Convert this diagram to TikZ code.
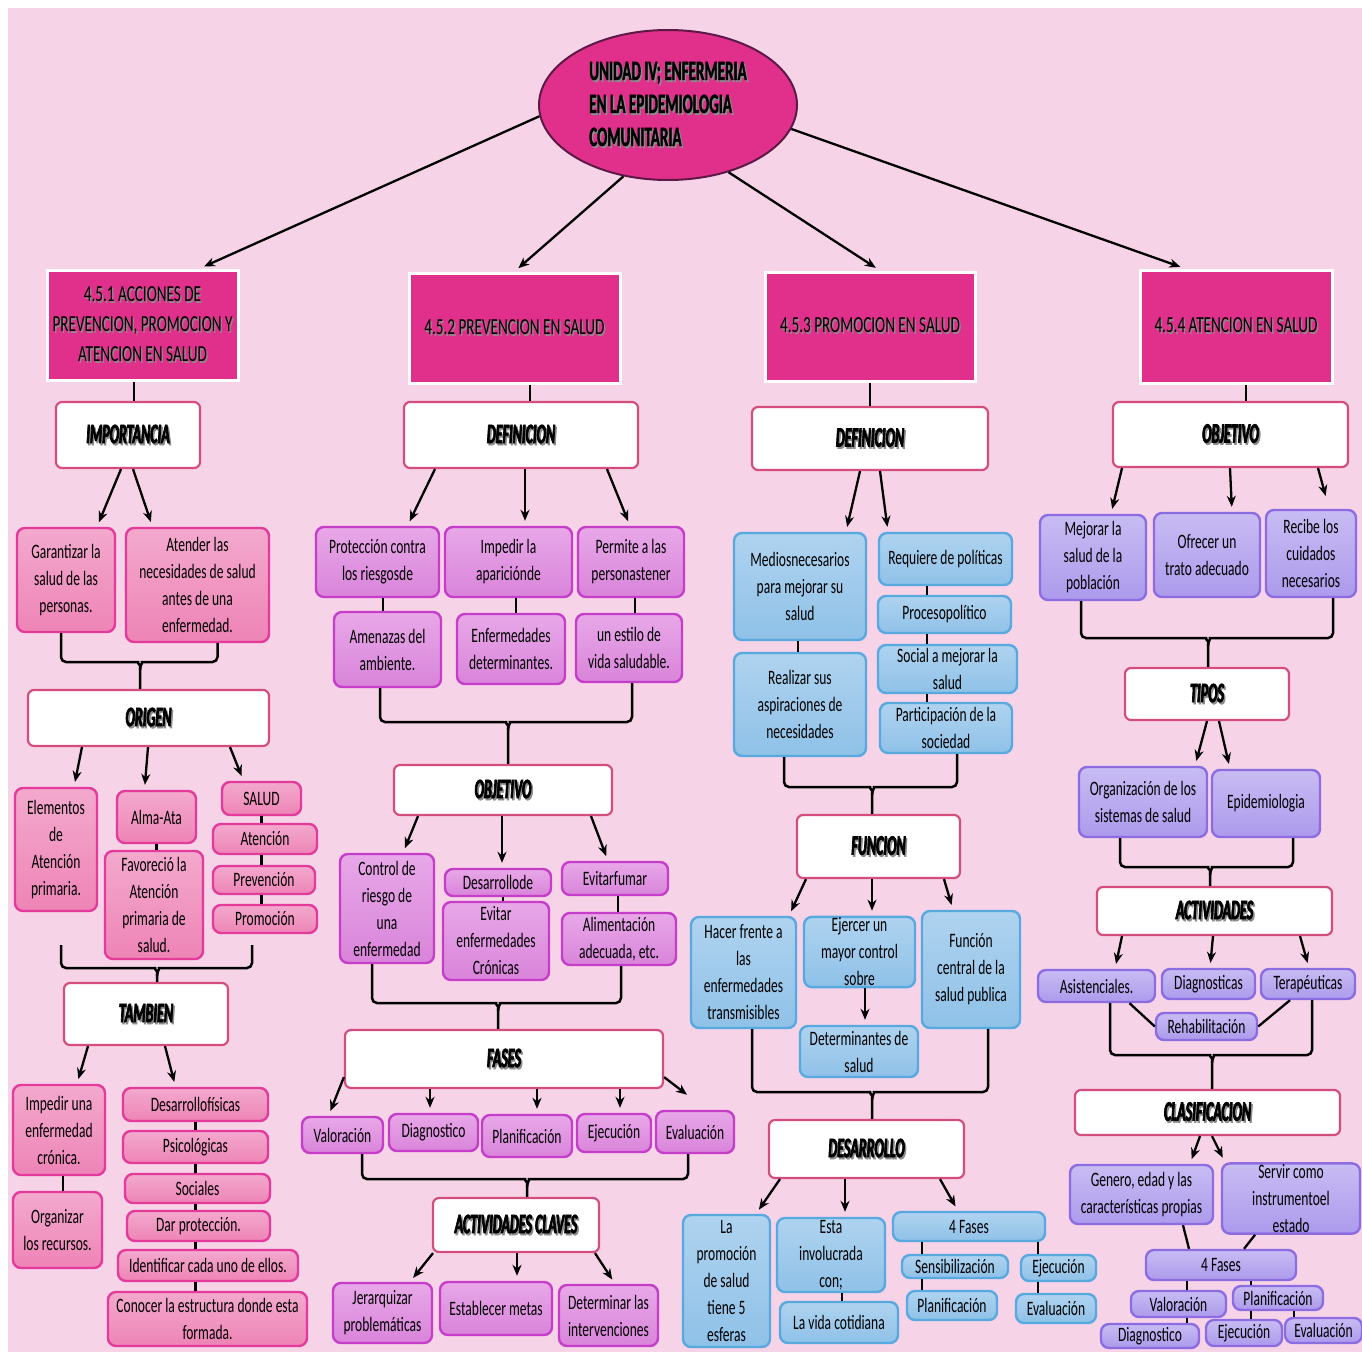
\documentclass[tikz,border=0pt]{standalone}
\usepackage{fontspec}
\setmainfont{Carlito}[FakeStretch=0.66]
\newfontfamily\ttlfont{Carlito}[FakeStretch=0.5,FakeBold=2.5]
\newfontfamily\hdfont{Carlito}[FakeStretch=0.54,FakeBold=1.2]
\usetikzlibrary{positioning, arrows.meta, shapes.geometric}

\definecolor{bgpink}{HTML}{F7D3E8}
\definecolor{mag}{HTML}{E0308C}
\definecolor{ellline}{HTML}{5E1A47}
\definecolor{ttlred}{HTML}{D44D7C}
\definecolor{pkA}{HTML}{F3A9CD}
\definecolor{pkB}{HTML}{EE84B6}
\definecolor{pkL}{HTML}{E33A9B}
\definecolor{puA}{HTML}{E8A8E8}
\definecolor{puB}{HTML}{D984DA}
\definecolor{puL}{HTML}{C53DC8}
\definecolor{blA}{HTML}{AFD3EF}
\definecolor{blB}{HTML}{8FC1E8}
\definecolor{blL}{HTML}{57A9DF}
\definecolor{lvA}{HTML}{C8BCF3}
\definecolor{lvB}{HTML}{AC9AEC}
\definecolor{lvL}{HTML}{8B6DE1}

\newcommand\shd[1]{\makebox[0pt][l]{\hspace{1.5pt}\raisebox{-2pt}{\color{black!45}#1}}#1}

\tikzset{
    sz/.style 2 args={minimum width=#1pt, minimum height=#2pt},
    lvl/.style={rectangle, fill=mag, draw=white, line width=3pt, align=center, inner sep=1pt, font={\fontsize{23}{30}\selectfont}},
    ttl/.style={rectangle, rounded corners=6pt, fill=white, draw=ttlred, line width=2.2pt, inner sep=1pt, font={\ttlfont\bfseries\itshape\fontsize{28}{30}\selectfont}},
    cbox/.style={rectangle, rounded corners=8pt, line width=2.4pt, align=center, inner sep=1pt, font={\fontsize{20.5}{27}\selectfont}},
    pk/.style={cbox, draw=pkL, top color=pkA, bottom color=pkB},
    pu/.style={cbox, draw=puL, top color=puA, bottom color=puB},
    bl/.style={cbox, draw=blL, top color=blA, bottom color=blB},
    lv/.style={cbox, draw=lvL, top color=lvA, bottom color=lvB},
    arr/.style={->, line width=2.3pt, shorten >=5pt},
    ln/.style={line width=2.3pt},
    brk/.style={line width=2.5pt, rounded corners=5pt}
}

\begin{document}
\begin{tikzpicture}[x=1pt, y=-1pt, >={Stealth[length=11pt,width=9pt]}]
    \useasboundingbox (0,0) rectangle (1362,1352);
    \fill[white] (0,0) rectangle (1362,1352);
    \fill[bgpink] (8,8) rectangle (1362,1352);

    % main topic
    \node (ell) [ellipse, fill=mag, draw=ellline, line width=2pt, sz={258}{150}, align=left, font={\hdfont\bfseries\fontsize{28}{33}\selectfont}] at (668,105)
        {\shd{UNIDAD IV; ENFERMERIA}\\\shd{EN LA EPIDEMIOLOGIA}\\\shd{COMUNITARIA}};
    \node (b1) [lvl, sz={191}{110}] at (142.5,325) {\shd{4.5.1 ACCIONES DE}\\\shd{PREVENCION, PROMOCION Y}\\\shd{ATENCION EN SALUD}};
    \node (b2) [lvl, sz={211}{110}] at (514.5,328) {\shd{4.5.2 PREVENCION EN SALUD}};
    \node (b3) [lvl, sz={210}{109}] at (870,326.5) {\shd{4.5.3 PROMOCION EN SALUD}};
    \node (b4) [lvl, sz={192}{113}] at (1236,326.5) {\shd{4.5.4 ATENCION EN SALUD}};
    \draw [arr] (ell.185) -- ([xshift=57]b1.north);
    \draw [arr] (ell.238) -- (b2.north);
    \draw [arr] (ell.312) -- ([xshift=10]b3.north);
    \draw [arr] (ell.349) -- ([xshift=-51]b4.north);

    % 4.5.1
    \node (imp) [ttl, sz={144}{66}] at (128,435) {\shd{IMPORTANCIA}};
    \node (gar) [pk, sz={98}{104}] at (66,580) {Garantizar la\\salud de las\\personas.};
    \node (ate) [pk, sz={143}{114}] at (197.5,585) {Atender las\\necesidades de salud\\antes de una\\enfermedad.};
    \node (org) [ttl, sz={241}{56}] at (148.5,718) {\shd{ORIGEN}};
    \node (ele) [pk, sz={82}{123}] at (56,849.5) {Elementos\\de\\Atención\\primaria.};
    \node (alm) [pk, sz={79}{52}] at (156.5,817) {Alma-Ata};
    \node (fav) [pk, sz={98}{108}] at (154,905) {Favoreció la\\Atención\\primaria de\\salud.};
    \node (sal) [pk, sz={79}{33}] at (261.5,798.5) {SALUD};
    \node (aten) [pk, sz={104}{30}] at (265,839) {Atención};
    \node (prev) [pk, sz={102}{28}] at (264,880) {Prevención};
    \node (prom) [pk, sz={104}{28}] at (265,919) {Promoción};
    \node (tam) [ttl, sz={164}{62}] at (146,1014) {\shd{TAMBIEN}};
    \node (imu) [pk, sz={92}{90}] at (59,1130) {Impedir una\\enfermedad\\crónica.};
    \node (orr) [pk, sz={89}{76}] at (57.5,1230) {Organizar\\los recursos.};
    \node (dfi) [pk, sz={145}{33}] at (195.5,1104.5) {Desarrollofísicas};
    \node (psi) [pk, sz={145}{32}] at (195.5,1147) {Psicológicas};
    \node (soc) [pk, sz={145}{29}] at (197.5,1188.5) {Sociales};
    \node (dpr) [pk, sz={143}{30}] at (198.5,1226) {Dar protección.};
    \node (ide) [pk, sz={180}{31}] at (208,1265.5) {Identificar cada uno de ellos.};
    \node (con) [pk, sz={199}{54}] at (207.5,1319) {Conocer la estructura donde esta\\formada.};

    \draw [ln] ([xshift=-8.5]b1.south) -- ([xshift=-8.5]b1.south |- imp.north);
    \draw [arr] ([xshift=-7]imp.south) -- ([xshift=31]gar.north);
    \draw [arr] ([xshift=5]imp.south) -- ([xshift=-45]ate.north);
    \coordinate (k1) at (140,662);
    \draw [brk] ([xshift=-5]gar.south) |- ([xshift=-7]k1) to[out=0, in=90] ([yshift=-8]k1) -- (k1 |- org.north);
    \draw [brk] ([xshift=20]ate.south) |- ([xshift=7]k1) to[out=180, in=90] ([yshift=-8]k1);
    \draw [arr] ([xshift=-66.5]org.south) -- ([xshift=18]ele.north);
    \draw [arr] ([xshift=-0.5]org.south) -- ([xshift=-12]alm.north);
    \draw [arr] ([xshift=81.5]org.south) -- ([xshift=-18]sal.north);
    \draw [ln] (alm.south) -- (alm.south |- fav.north);
    \draw [ln] (sal.south) -- (sal.south |- aten.north);
    \draw [ln] (sal.south |- aten.south) -- (sal.south |- prev.north);
    \draw [ln] (sal.south |- prev.south) -- (sal.south |- prom.north);
    \coordinate (k2l) at (61,945);
    \coordinate (k2r) at (252,945);
    \coordinate (k2) at (157,968);
    \draw [brk] (k2l) |- ([xshift=-7]k2) to[out=0, in=90] ([yshift=-8]k2) -- (k2 |- tam.north);
    \draw [brk] (k2r) |- ([xshift=7]k2) to[out=180, in=90] ([yshift=-8]k2);
    \draw [arr] ([xshift=-58]tam.south) -- ([xshift=18]imu.north);
    \draw [arr] ([xshift=19]tam.south) -- ([xshift=-20]dfi.north);
    \draw [ln] ([xshift=4]imu.south) -- ([xshift=4]imu.south |- orr.north);
    \draw [ln] (dfi.south) -- (dfi.south |- psi.north);
    \draw [ln] (psi.south) -- (psi.south |- soc.north);
    \draw [ln] (psi.south |- soc.south) -- (psi.south |- dpr.north);
    \draw [ln] (psi.south |- dpr.south) -- (psi.south |- ide.north);
    \draw [ln] (psi.south |- ide.south) -- (psi.south |- con.north);

    % 4.5.2
    \node (def2) [ttl, sz={234}{66}] at (521,435) {\shd{DEFINICION}};
    \node (pro) [pu, sz={123}{70}] at (377.5,562) {Protección contra\\los riesgosde};
    \node (ipa) [pu, sz={127}{70}] at (508.5,562) {Impedir la\\apariciónde};
    \node (per) [pu, sz={106}{70}] at (631,562) {Permite a las\\personastener};
    \node (ame) [pu, sz={107}{75}] at (387.5,649.5) {Amenazas del\\ambiente.};
    \node (enf) [pu, sz={108}{70}] at (511,649) {Enfermedades\\determinantes.};
    \node (est) [pu, sz={106}{68}] at (629,648) {un estilo de\\vida saludable.};
    \node (obj2) [ttl, sz={218}{50}] at (503,790) {\shd{OBJETIVO}};
    \node (ctr) [pu, sz={94}{109}] at (387,908.5) {Control de\\riesgo de\\una\\enfermedad};
    \node (dde) [pu, sz={106}{27}] at (498,882.5) {Desarrollode};
    \node (evi) [pu, sz={106}{78}] at (496,941) {Evitar\\enfermedades\\Crónicas};
    \node (efu) [pu, sz={106}{33}] at (615,878.5) {Evitarfumar};
    \node (ali) [pu, sz={114}{52}] at (619,939) {Alimentación\\adecuada, etc.};
    \node (fas) [ttl, sz={318}{58}] at (504,1059) {\shd{FASES}};
    \node (val) [pu, sz={81}{36}] at (342.5,1135) {Valoración};
    \node (dia) [pu, sz={89}{37}] at (433.5,1132.5) {Diagnostico};
    \node (pla) [pu, sz={90}{42}] at (527,1136) {Planificación};
    \node (eje) [pu, sz={74}{38}] at (614,1133) {Ejecución};
    \node (eva) [pu, sz={78}{42}] at (695,1132) {Evaluación};
    \node (acl) [ttl, sz={166}{54}] at (516,1225) {\shd{ACTIVIDADES CLAVES}};
    \node (jer) [pu, sz={99}{60}] at (382.5,1313) {Jerarquizar\\problemáticas};
    \node (met) [pu, sz={112}{53}] at (496,1308.5) {Establecer metas};
    \node (det) [pu, sz={99}{61}] at (608.5,1315.5) {Determinar las\\intervenciones};

    \draw [ln] ([xshift=15.5]b2.south) -- ([xshift=15.5]b2.south |- def2.north);
    \draw [arr] ([xshift=-86]def2.south) -- ([xshift=30]pro.north);
    \draw [arr] ([xshift=4]def2.south) -- ([xshift=16.5]ipa.north);
    \draw [arr] ([xshift=86]def2.south) -- ([xshift=-1]per.north);
    \draw [ln] ([xshift=5.5]pro.south) -- ([xshift=5.5]pro.south |- ame.north);
    \draw [ln] ([xshift=7.5]ipa.south) -- ([xshift=7.5]ipa.south |- enf.north);
    \draw [ln] ([xshift=4]per.south) -- ([xshift=4]per.south |- est.north);
    \coordinate (k3) at (508,722);
    \draw [brk] ([xshift=-7.5]ame.south) |- ([xshift=-7]k3) to[out=0, in=90] ([yshift=-8]k3) -- (k3 |- obj2.north);
    \draw [brk] ([xshift=3]est.south) |- ([xshift=7]k3) to[out=180, in=90] ([yshift=-8]k3);
    \draw [arr] ([xshift=-85]obj2.south) -- ([xshift=16]ctr.north);
    \draw [arr] ([xshift=-1]obj2.south) -- ([xshift=4]dde.north);
    \draw [arr] ([xshift=88]obj2.south) -- ([xshift=-7]efu.north);
    \draw [ln] ([xshift=5]dde.south) -- ([xshift=5]dde.south |- evi.north);
    \draw [ln] ([xshift=3]efu.south) -- ([xshift=3]efu.south |- ali.north);
    \coordinate (k4) at (498,1003);
    \draw [brk] ([xshift=-15]ctr.south) |- ([xshift=-7]k4) to[out=0, in=90] ([yshift=-8]k4) -- (k4 |- fas.north);
    \draw [brk] ([xshift=2]ali.south) |- ([xshift=7]k4) to[out=180, in=90] ([yshift=-8]k4);
    \draw [arr] ([yshift=12]fas.south west) -- ([xshift=-14]val.north);
    \draw [arr] ([xshift=-74]fas.south) -- ([xshift=-3.5]dia.north);
    \draw [arr] ([xshift=33]fas.south) -- ([xshift=10]pla.north);
    \draw [arr] ([xshift=116]fas.south) -- ([xshift=6]eje.north);
    \draw [arr] ([yshift=12]fas.south east) -- ([xshift=-4,yshift=12]eva.north);
    \coordinate (k5) at (527,1179);
    \draw [brk] ([xshift=19.5]val.south) |- ([xshift=-7]k5) to[out=0, in=90] ([yshift=-8]k5) -- (k5 |- acl.north);
    \draw [brk] ([xshift=-7]eva.south) |- ([xshift=7]k5) to[out=180, in=90] ([yshift=-8]k5);
    \draw [arr] ([xshift=-83]acl.south) -- ([xshift=27.5]jer.north);
    \draw [arr] ([xshift=1]acl.south) -- ([xshift=21]met.north);
    \draw [arr] ([xshift=79]acl.south) -- ([xshift=6.5]det.north);

    % 4.5.3
    \node (def3) [ttl, sz={236}{63}] at (870,438.5) {\shd{DEFINICION}};
    \node (med) [bl, sz={132}{107}] at (800,586.5) {Mediosnecesarios\\para mejorar su\\salud};
    \node (rea) [bl, sz={132}{103}] at (800,704.5) {Realizar sus\\aspiraciones de\\necesidades};
    \node (req) [bl, sz={133}{52}] at (945.5,559) {Requiere de políticas};
    \node (ppo) [bl, sz={133}{37}] at (944.5,614.5) {Procesopolítico};
    \node (soc3) [bl, sz={139}{48}] at (947.5,669) {Social a mejorar la\\salud};
    \node (par) [bl, sz={132}{50}] at (946,728) {Participación de la\\sociedad};
    \node (fun) [ttl, sz={163}{63}] at (878.5,846.5) {\shd{FUNCION}};
    \node (hac) [bl, sz={105}{111}] at (743.5,972.5) {Hacer frente a\\las\\enfermedades\\transmisibles};
    \node (ejr) [bl, sz={111}{70}] at (859.5,952) {Ejercer un\\mayor control\\sobre};
    \node (dts) [bl, sz={118}{51}] at (859,1051.5) {Determinantes de\\salud};
    \node (fce) [bl, sz={98}{117}] at (971,969.5) {Función\\central de la\\salud publica};
    \node (des) [ttl, sz={195}{58}] at (866.5,1149) {\shd{DESARROLLO}};
    \node (lpr) [bl, sz={87}{132}] at (726.5,1281) {La\\promoción\\de salud\\tiene 5\\esferas};
    \node (inv) [bl, sz={108}{74}] at (831,1255) {Esta\\involucrada\\con;};
    \node (lvc) [bl, sz={118}{41}] at (839,1322.5) {La vida cotidiana};
    \node (f4a) [bl, sz={152}{29}] at (969,1226.5) {4 Fases};
    \node (sen) [bl, sz={106}{23}] at (955,1266.5) {Sensibilización};
    \node (pl3) [bl, sz={90}{29}] at (952,1305.5) {Planificación};
    \node (ej3) [bl, sz={75}{26}] at (1058.5,1268) {Ejecución};
    \node (ev3) [bl, sz={80}{29}] at (1056,1308.5) {Evaluación};

    \draw [ln] (b3.south) -- (b3.south |- def3.north);
    \draw [arr] ([xshift=-10]def3.south) -- ([xshift=46]med.north);
    \draw [arr] ([xshift=10]def3.south) -- ([xshift=-57.5]req.north);
    \draw [ln] ([xshift=-2]med.south) -- ([xshift=-2]med.south |- rea.north);
    \draw [ln] ([xshift=-18.5]req.south) -- ([xshift=-18.5]req.south |- ppo.north);
    \draw [ln] ([xshift=-18.5]req.south |- ppo.south) -- ([xshift=-18.5]req.south |- soc3.north);
    \draw [ln] ([xshift=-18.5]req.south |- soc3.south) -- ([xshift=-18.5]req.south |- par.north);
    \coordinate (k6) at (872,787);
    \draw [brk] ([xshift=-16]rea.south) |- ([xshift=-7]k6) to[out=0, in=90] ([yshift=-8]k6) -- (k6 |- fun.north);
    \draw [brk] ([xshift=11]par.south) |- ([xshift=7]k6) to[out=180, in=90] ([yshift=-8]k6);
    \draw [arr] ([xshift=-72.5]fun.south) -- ([xshift=45.5]hac.north);
    \draw [arr] ([xshift=-6.5]fun.south) -- ([xshift=12.5]ejr.north);
    \draw [arr] ([xshift=65.5]fun.south) -- ([xshift=-18]fce.north);
    \draw [arr] ([xshift=5.5]ejr.south) -- ([xshift=6]dts.north);
    \coordinate (k7) at (872,1092);
    \draw [brk] ([xshift=8.5]hac.south) |- ([xshift=-7]k7) to[out=0, in=90] ([yshift=-8]k7) -- (k7 |- des.north);
    \draw [brk] ([xshift=17]fce.south) |- ([xshift=7]k7) to[out=180, in=90] ([yshift=-8]k7);
    \draw [arr] ([xshift=-86.5]des.south) -- ([xshift=29.5]lpr.north);
    \draw [arr] ([xshift=-21.5]des.south) -- ([xshift=14]inv.north);
    \draw [arr] ([xshift=73.5]des.south) -- ([xshift=-11]f4a.north);
    \draw [ln] ([xshift=11]inv.south) -- ([xshift=11]inv.south |- lvc.north);
    \draw [ln] ([xshift=-47]f4a.south) -- ([xshift=-47]f4a.south |- sen.north);
    \draw [ln] ([xshift=-47]f4a.south |- sen.south) -- ([xshift=-47]f4a.south |- pl3.north);
    \draw [ln] ([xshift=69]f4a.south) -- ([xshift=69]f4a.south |- ej3.north);
    \draw [ln] ([xshift=69]f4a.south |- ej3.south) -- ([xshift=69]f4a.south |- ev3.north);

    % 4.5.4
    \node (obj4) [ttl, sz={235}{65}] at (1230.5,434.5) {\shd{OBJETIVO}};
    \node (mej) [lv, sz={106}{85}] at (1093,557.5) {Mejorar la\\salud de la\\población};
    \node (ofr) [lv, sz={106}{84}] at (1207,555) {Ofrecer un\\trato adecuado};
    \node (rec) [lv, sz={90}{87}] at (1311,553.5) {Recibe los\\cuidados\\necesarios};
    \node (tip) [ttl, sz={164}{52}] at (1207,694) {\shd{TIPOS}};
    \node (osi) [lv, sz={128}{70}] at (1143,802) {Organización de los\\sistemas de salud};
    \node (epi) [lv, sz={108}{67}] at (1266,803.5) {Epidemiologia};
    \node (act) [ttl, sz={235}{48}] at (1214.5,911) {\shd{ACTIVIDADES}};
    \node (asi) [lv, sz={117}{32}] at (1096.5,986) {Asistenciales.};
    \node (dgn) [lv, sz={93}{30}] at (1208.5,984) {Diagnosticas};
    \node (ter) [lv, sz={94}{30}] at (1308,984) {Terapéuticas};
    \node (reh) [lv, sz={101}{27}] at (1206.5,1026.5) {Rehabilitación};
    \node (cla) [ttl, sz={265}{45}] at (1207.5,1112.5) {\shd{CLASIFICACION}};
    \node (gen) [lv, sz={143}{59}] at (1141.5,1194.5) {Genero, edad y las\\características propias};
    \node (ser) [lv, sz={138}{67}] at (1291,1198.5) {Servir como\\instrumentoel\\estado};
    \node (f4b) [lv, sz={150}{30}] at (1221,1265) {4 Fases};
    \node (va4) [lv, sz={95}{26}] at (1178.5,1304) {Valoración};
    \node (pl4) [lv, sz={90}{24}] at (1278,1298) {Planificación};
    \node (di4) [lv, sz={98}{24}] at (1150,1336) {Diagnostico};
    \node (ej4) [lv, sz={76}{26}] at (1244,1333) {Ejecución};
    \node (ev4) [lv, sz={77}{25}] at (1323.5,1330.5) {Evaluación};

    \draw [ln] ([xshift=10]b4.south) -- ([xshift=10]b4.south |- obj4.north);
    \draw [arr] ([xshift=-108.5]obj4.south) -- ([xshift=18]mej.north);
    \draw [arr] ([xshift=-0.5]obj4.south) -- ([xshift=25]ofr.north);
    \draw [arr] ([xshift=87.5]obj4.south) -- ([xshift=16,yshift=8]rec.north);
    \coordinate (k8) at (1208,638);
    \draw [brk] ([xshift=-12]mej.south) |- ([xshift=-7]k8) to[out=0, in=90] ([yshift=-8]k8) -- (k8 |- tip.north);
    \draw [brk] ([xshift=22]rec.south) |- ([xshift=7]k8) to[out=180, in=90] ([yshift=-8]k8);
    \draw [arr] (tip.south) -- ([xshift=52]osi.north);
    \draw [arr] ([xshift=12]tip.south) -- ([xshift=-36]epi.north);
    \coordinate (k9) at (1210,867);
    \draw [brk] ([xshift=-23]osi.south) |- ([xshift=-7]k9) to[out=0, in=90] ([yshift=-8]k9) -- (k9 |- act.north);
    \draw [brk] ([xshift=27]epi.south) |- ([xshift=7]k9) to[out=180, in=90] ([yshift=-8]k9);
    \draw [arr] ([xshift=-92.5]act.south) -- ([xshift=18.5]asi.north);
    \draw [arr] ([xshift=-1.5]act.south) -- ([xshift=1.5]dgn.north);
    \draw [arr] ([xshift=85.5]act.south) -- ([xshift=1]ter.north);
    \draw [ln] ([xshift=33]asi.south) -- (reh.west);
    \draw [ln] ([xshift=-18]ter.south) -- (reh.east);
    \coordinate (k10) at (1212,1055);
    \draw [brk] ([xshift=13.5]asi.south) |- ([xshift=-7]k10) to[out=0, in=90] ([yshift=-8]k10) -- (k10 |- cla.north);
    \draw [brk] ([xshift=4]ter.south) |- ([xshift=7]k10) to[out=180, in=90] ([yshift=-8]k10);
    \draw [arr] ([xshift=-7.5]cla.south) -- ([xshift=48.5]gen.north);
    \draw [arr] ([xshift=4.5]cla.south) -- ([xshift=-66]ser.north);
    \draw [ln] ([xshift=41.5]gen.south) -- ([xshift=-32]f4b.north);
    \draw [ln] ([xshift=-36]ser.south) -- ([xshift=23]f4b.north);
    \draw [ln] ([xshift=-34]f4b.south) -- ([xshift=-34]f4b.south |- va4.north);
    \draw [ln] ([xshift=-34]f4b.south |- va4.south) -- ([xshift=-34]f4b.south |- di4.north);
    \draw [ln] ([xshift=30]f4b.south) -- ([xshift=30]f4b.south |- pl4.north);
    \draw [ln] ([xshift=30]f4b.south |- pl4.south) -- ([xshift=30]f4b.south |- ej4.north);
    \draw [ln] ([xshift=16]pl4.south) -- ([xshift=16]pl4.south |- ev4.north);
\end{tikzpicture}
\end{document}
